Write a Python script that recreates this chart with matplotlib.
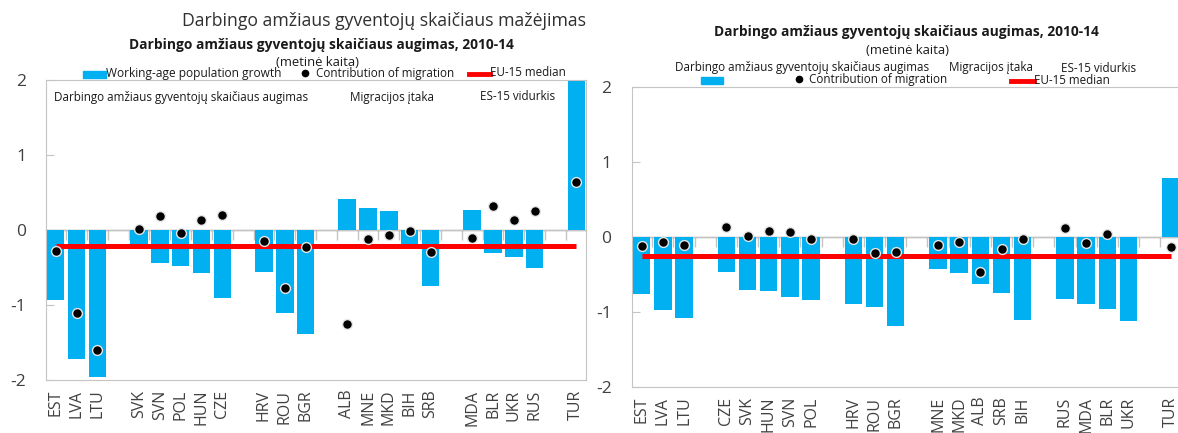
import numpy as np
import matplotlib
matplotlib.use("Agg")
import matplotlib.pyplot as plt
from matplotlib.patches import Rectangle
from matplotlib.lines import Line2D

plt.rcParams['font.family'] = ['Open Sans', 'DejaVu Sans']
plt.rcParams['axes.unicode_minus'] = False

nan = np.nan

# left panel (blank entries are the gaps between country groups)
left_codes = ["EST", "LVA", "LTU", "", "SVK", "SVN", "POL", "HUN", "CZE", "",
              "HRV", "ROU", "BGR", "", "ALB", "MNE", "MKD", "BIH", "SRB", "",
              "MDA", "BLR", "UKR", "RUS", "", "TUR"]
left_growth = [-0.93, -1.72, -1.96, nan, -0.25, -0.44, -0.48, -0.57, -0.91, nan,
               -0.56, -1.11, -1.39, nan, 0.41, 0.29, 0.26, -0.25, -0.75, nan,
               0.27, -0.31, -0.36, -0.51, nan, 2.5]
left_migration = [-0.28, -1.10, -1.60, nan, 0.01, 0.19, -0.04, 0.13, 0.20, nan,
                  -0.14, -0.77, -0.22, nan, -1.25, -0.12, -0.07, -0.01, -0.29, nan,
                  -0.11, 0.32, 0.13, 0.26, nan, 0.64]
left_median = -0.21

# right panel
right_codes = ["EST", "LVA", "LTU", "", "CZE", "SVK", "HUN", "SVN", "POL", "",
               "HRV", "ROU", "BGR", "", "MNE", "MKD", "ALB", "SRB", "BIH", "",
               "RUS", "MDA", "BLR", "UKR", "", "TUR"]
right_growth = [-0.76, -0.97, -1.08, nan, -0.46, -0.70, -0.72, -0.80, -0.84, nan,
                -0.89, -0.93, -1.18, nan, -0.43, -0.48, -0.63, -0.74, -1.11, nan,
                -0.83, -0.89, -0.96, -1.12, nan, 0.79]
right_migration = [-0.12, -0.07, -0.10, nan, 0.14, 0.02, 0.08, 0.07, -0.03, nan,
                   -0.03, -0.21, -0.20, nan, -0.10, -0.07, -0.47, -0.16, -0.02, nan,
                   0.12, -0.08, 0.04, nan, nan, -0.13]
right_median = -0.25

BLUE = "#00b0f0"
RED = "#ff0000"
FRAME = "#c4c4c4"
TXT = "#404040"
INK = "#1a1a1a"

W, H = 1178, 433
fig = plt.figure(figsize=(W / 100, H / 100), dpi=100)


def px(x, y):
    return x / W, 1 - y / H


def panel(rect, codes, growth, migration, median, width, xlim, ypad):
    ax = fig.add_axes(rect)
    x = np.arange(len(codes))
    ax.bar(x, growth, width=width, color=BLUE, zorder=2)
    ax.hlines(median, x[0], x[-1], color=RED, lw=3.6, zorder=3)
    ax.scatter(x, migration, s=50, color="black", edgecolors="#e6e6e6",
               linewidths=1.0, zorder=4)
    ax.axhline(0, color=FRAME, lw=1, zorder=1)
    ax.set_xlim(*xlim)
    ax.set_ylim(-2, 2)
    ax.set_yticks([-2, -1, 0, 1, 2])
    ax.set_xticks(x)
    ax.set_xticklabels(codes, rotation=90, fontsize=11.5, color=TXT)
    ax.tick_params(axis="x", length=0, pad=7)
    ax.tick_params(axis="y", direction="in", length=6, color=FRAME,
                   labelsize=12.5, labelcolor=TXT, pad=ypad)
    for s in ax.spines.values():
        s.set_color(FRAME)
    # small category ticks along the zero line
    sec = ax.secondary_xaxis(0.5)
    sec.set_xticks(x[:-1] + 0.5)
    sec.set_xticklabels([])
    sec.tick_params(direction="in", length=7, color=FRAME, width=1)
    sec.spines["bottom"].set_visible(False)
    return ax


panel([45.9 / W, 53 / H, 540.4 / W, 300 / H], left_codes, left_growth,
      left_migration, left_median, 0.84, (-0.47, 25.48), 14)
panel([632.4 / W, 46 / H, 549 / W, 300 / H], right_codes, right_growth,
      right_migration, right_median, 0.82, (-0.44, 25.5), 15)

small = 8.4

# left panel texts
fig.text(*px(384, 21), "Darbingo amžiaus gyventojų skaičiaus mažėjimas",
         ha="center", va="center", fontsize=12.7, color="#303030")
fig.text(*px(321, 45), "Darbingo amžiaus gyventojų skaičiaus augimas, 2010-14",
         ha="center", va="center", fontsize=9.9, fontweight="bold", color=INK)
fig.text(*px(318, 62), "(metinė kaita)", ha="center", va="center",
         fontsize=9.4, color=INK)
fig.patches.append(Rectangle(px(83, 78), 23 / W, 7 / H, transform=fig.transFigure,
                             color=BLUE))
fig.text(*px(106, 73), "Working-age population growth", ha="left", va="center",
         fontsize=8.6, color=INK)
fig.lines.append(Line2D([305 / W], [1 - 73 / H], marker="o", ms=4.5, color="black",
                        transform=fig.transFigure))
fig.text(*px(316, 73), "Contribution of migration", ha="left", va="center",
         fontsize=small, color=INK)
fig.lines.append(Line2D([469 / W, 490 / W], [1 - 74 / H] * 2, lw=3.5, color=RED,
                        transform=fig.transFigure))
fig.text(*px(490, 73), "EU-15 median", ha="left", va="center", fontsize=small,
         color=INK)
fig.text(*px(54, 97), "Darbingo amžiaus gyventojų skaičiaus augimas", ha="left",
         va="center", fontsize=small, color=INK)
fig.text(*px(350, 97), "Migracijos įtaka", ha="left", va="center", fontsize=small,
         color=INK)
fig.text(*px(480, 97), "ES-15 vidurkis", ha="left", va="center", fontsize=small,
         color=INK)

# right panel texts
fig.text(*px(906, 32), "Darbingo amžiaus gyventojų skaičiaus augimas, 2010-14",
         ha="center", va="center", fontsize=9.9, fontweight="bold", color=INK)
fig.text(*px(907, 50), "(metinė kaita)", ha="center", va="center",
         fontsize=9.4, color=INK)
fig.text(*px(675, 68), "Darbingo amžiaus gyventojų skaičiaus augimas", ha="left",
         va="center", fontsize=small, color=INK)
fig.text(*px(949, 68), "Migracijos įtaka", ha="left", va="center", fontsize=small,
         color=INK)
fig.text(*px(1061, 68), "ES-15 vidurkis", ha="left", va="center", fontsize=small,
         color=INK)
fig.patches.append(Rectangle(px(701, 84), 22 / W, 7 / H, transform=fig.transFigure,
                             color=BLUE))
fig.lines.append(Line2D([799 / W], [1 - 79 / H], marker="o", ms=4.5, color="black",
                        transform=fig.transFigure))
fig.text(*px(809, 80), "Contribution of migration", ha="left", va="center",
         fontsize=small, color=INK)
fig.lines.append(Line2D([1011 / W, 1034 / W], [1 - 81 / H] * 2, lw=3.5, color=RED,
                        transform=fig.transFigure))
fig.text(*px(1034, 80), "EU-15 median", ha="left", va="center", fontsize=small,
         color=INK)

fig.savefig("out.png", dpi=100)
